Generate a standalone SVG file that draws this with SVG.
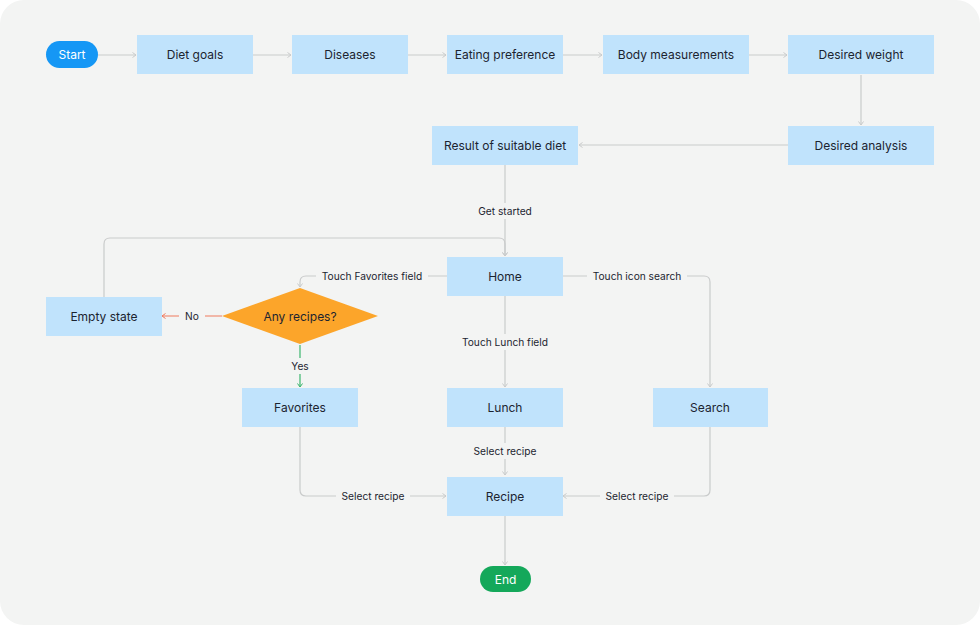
<svg xmlns="http://www.w3.org/2000/svg" width="980" height="625" viewBox="0 0 980 625">
<style>
.node{fill:#c0e3fc}
.nt{font-family:Inter,"Liberation Sans",sans-serif;font-size:12px;fill:#1c2430;text-anchor:middle;dominant-baseline:central}
.lt{font-family:Inter,"Liberation Sans",sans-serif;font-size:10.2px;fill:#1c2430;text-anchor:middle;dominant-baseline:central}
.c{fill:none;stroke:#c9cbcb;stroke-width:1.2}
.lb{fill:#f3f4f3}
</style>
<defs>
<marker id="ag" markerWidth="6" markerHeight="8" refX="4" refY="3" orient="auto" markerUnits="userSpaceOnUse"><path d="M0.5,0.5 L4,3 L0.5,5.5" fill="none" stroke="#c9cbcb" stroke-width="1"/></marker>
<marker id="ar" markerWidth="6" markerHeight="8" refX="4" refY="3" orient="auto" markerUnits="userSpaceOnUse"><path d="M0.5,0.5 L4,3 L0.5,5.5" fill="none" stroke="#ef7a5f" stroke-width="1"/></marker>
<marker id="agr" markerWidth="6" markerHeight="8" refX="4" refY="3" orient="auto" markerUnits="userSpaceOnUse"><path d="M0.5,0.5 L4,3 L0.5,5.5" fill="none" stroke="#3bb56d" stroke-width="1"/></marker>
</defs>
<rect x="0" y="0" width="980" height="625" fill="#ffffff"/>
<rect x="0" y="0" width="980" height="625" rx="24" fill="#f3f4f3"/>
<g id="connectors">
<path class="c" d="M98,55 H136" marker-end="url(#ag)"/>
<path class="c" d="M253,55 H291" marker-end="url(#ag)"/>
<path class="c" d="M408,55 H446" marker-end="url(#ag)"/>
<path class="c" d="M563,55 H602" marker-end="url(#ag)"/>
<path class="c" d="M749,55 H787" marker-end="url(#ag)"/>
<path class="c" d="M861,75 V125" marker-end="url(#ag)"/>
<path class="c" d="M788,145 H579" marker-end="url(#ag)"/>
<path class="c" d="M505,165 V256" marker-end="url(#ag)"/>
<path class="c" d="M104,297 V244 Q104,238 110,238 H499 Q505,238 505,244 V256" marker-end="url(#ag)"/>
<path class="c" d="M447,276 H306 Q300,276 300,282 V287" marker-end="url(#ag)"/>
<path class="c" d="M222,316 H162" style="stroke:#ef7a5f" marker-end="url(#ar)"/>
<path class="c" d="M300,345 V387" style="stroke:#3bb56d" marker-end="url(#agr)"/>
<path class="c" d="M505,296 V387" marker-end="url(#ag)"/>
<path class="c" d="M563,276 H704 Q710,276 710,282 V387" marker-end="url(#ag)"/>
<path class="c" d="M505,427 V475" marker-end="url(#ag)"/>
<path class="c" d="M300,427 V490 Q300,496 306,496 H446" marker-end="url(#ag)"/>
<path class="c" d="M710,427 V490 Q710,496 704,496 H563" marker-end="url(#ag)"/>
<path class="c" d="M505,516 V565" marker-end="url(#ag)"/>
<rect class="lb" x="473" y="203" width="64" height="16"/>
<text class="lt" x="505" y="211">Get started</text>
<rect class="lb" x="316" y="268" width="112" height="16"/>
<text class="lt" x="372" y="276">Touch Favorites field</text>
<rect class="lb" x="179" y="308" width="26" height="16"/>
<text class="lt" x="192" y="316">No</text>
<rect class="lb" x="288" y="358" width="24" height="16"/>
<text class="lt" x="300" y="366">Yes</text>
<rect class="lb" x="457" y="334" width="96" height="16"/>
<text class="lt" x="505" y="342">Touch Lunch field</text>
<rect class="lb" x="587" y="268" width="100" height="16"/>
<text class="lt" x="637" y="276">Touch icon search</text>
<rect class="lb" x="469" y="443" width="72" height="16"/>
<text class="lt" x="505" y="451">Select recipe</text>
<rect class="lb" x="336" y="488" width="74" height="16"/>
<text class="lt" x="373" y="496">Select recipe</text>
<rect class="lb" x="600" y="488" width="74" height="16"/>
<text class="lt" x="637" y="496">Select recipe</text>
</g>
<g id="start"><rect x="46" y="41" width="52" height="27" rx="13.5" fill="#1597f5"/><text class="nt" x="72" y="54.5" style="fill:#ffffff">Start</text></g>
<g id="diet-goals"><rect class="node" x="137" y="35" width="116" height="39"/><text class="nt" x="195" y="54.5">Diet goals</text></g>
<g id="diseases"><rect class="node" x="292" y="35" width="116" height="39"/><text class="nt" x="350" y="54.5">Diseases</text></g>
<g id="eating-preference"><rect class="node" x="447" y="35" width="116" height="39"/><text class="nt" x="505" y="54.5">Eating preference</text></g>
<g id="body-measurements"><rect class="node" x="603" y="35" width="146" height="39"/><text class="nt" x="676" y="54.5">Body measurements</text></g>
<g id="desired-weight"><rect class="node" x="788" y="35" width="146" height="39"/><text class="nt" x="861" y="54.5">Desired weight</text></g>
<g id="desired-analysis"><rect class="node" x="788" y="126" width="146" height="39"/><text class="nt" x="861" y="145.5">Desired analysis</text></g>
<g id="result"><rect class="node" x="432" y="126" width="146" height="39"/><text class="nt" x="505" y="145.5">Result of suitable diet</text></g>
<g id="home"><rect class="node" x="447" y="257" width="116" height="39"/><text class="nt" x="505" y="276.5">Home</text></g>
<g id="empty-state"><rect class="node" x="46" y="297" width="116" height="39"/><text class="nt" x="104" y="316.5">Empty state</text></g>
<g id="any-recipes"><polygon points="300,288 378,316 300,344 222,316" fill="#fca52a"/><text class="nt" x="300" y="316.5">Any recipes?</text></g>
<g id="favorites"><rect class="node" x="242" y="388" width="116" height="39"/><text class="nt" x="300" y="407.5">Favorites</text></g>
<g id="lunch"><rect class="node" x="447" y="388" width="116" height="39"/><text class="nt" x="505" y="407.5">Lunch</text></g>
<g id="search"><rect class="node" x="653" y="388" width="115" height="39"/><text class="nt" x="710" y="407.5">Search</text></g>
<g id="recipe"><rect class="node" x="447" y="477" width="116" height="39"/><text class="nt" x="505" y="496.5">Recipe</text></g>
<g id="end"><rect x="480" y="566" width="51" height="26" rx="13" fill="#14a85a"/><text class="nt" x="505.5" y="579" style="fill:#ffffff">End</text></g>
</svg>
